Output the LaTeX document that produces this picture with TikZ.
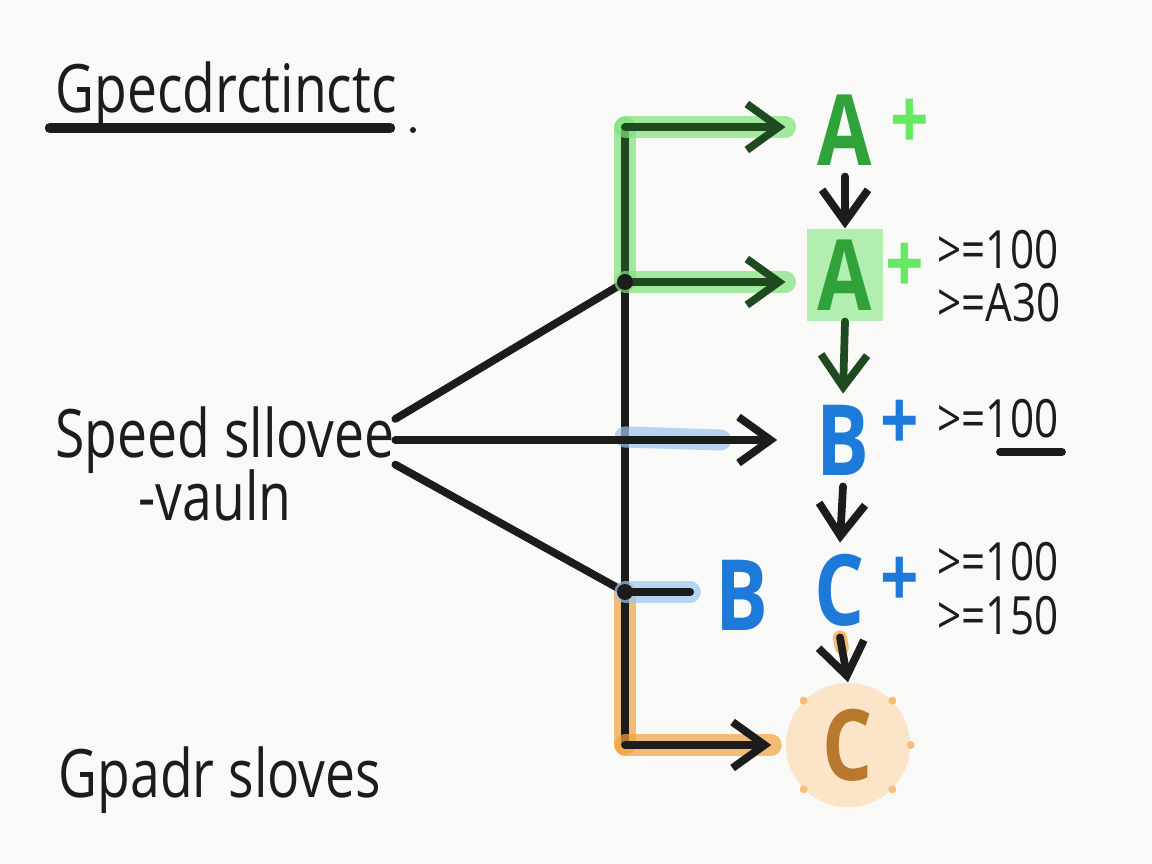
\documentclass[tikz,border=0pt]{standalone}
\usepackage{fontspec}
\setmainfont[FakeStretch=0.8]{Open Sans}
\usetikzlibrary{arrows.meta}

\begin{document}
\begin{tikzpicture}[x=0.01cm, y=-0.01cm]
    % Define colours
    \definecolor{paperColour}{HTML}{F9F9F7}
    \definecolor{inkColour}{HTML}{1C1C1C}
    \definecolor{greenInk}{HTML}{2FA23A}
    \definecolor{greenGlow}{HTML}{7FE27A}
    \definecolor{greenDark}{HTML}{1F4A1F}
    \definecolor{blueInk}{HTML}{1E7AD8}
    \definecolor{blueGlow}{HTML}{9CC6EE}
    \definecolor{orangeInk}{HTML}{F2A23E}
    \definecolor{orangeFill}{HTML}{FBE4C8}

    \tikzset{
        hand/.style={font=\fontsize{19}{22}\selectfont, inner sep=0pt, text=inkColour},
        letter/.style={font=\fontsize{28}{30}\selectfont\bfseries, inner sep=3pt},
        plussign/.style={font=\fontsize{24}{26}\selectfont\bfseries, inner sep=0pt},
        val/.style={font=\fontsize{15}{17}\selectfont, inner sep=0pt, anchor=west,
            text height=1.5ex, text depth=0pt, text=inkColour},
        ink/.style={draw=inkColour, line width=2.2pt, line cap=round},
        glow/.style={line width=6pt, line cap=round, opacity=0.7},
        tip/.style={-{Straight Barb[length=3.2mm, width=4.6mm, line width=2.2pt]}}
    }

    % Paper
    \fill[paperColour] (0,0) rectangle (1152,864);
    \useasboundingbox (0,0) rectangle (1152,864);

    % Texts on the left
    \node[hand, anchor=west] (title) at (55,95) {Gpecdrctinctc};
    \draw[ink, line width=3pt] (50,128) -- (390,128);
    \fill[inkColour] (413,130) circle (3);
    \node[hand] (src) at (225,440) {Speed sllovee};
    \node[hand] (srcsub) at (215,495) {-vauln};
    \node[hand] (out) at (220,780) {Gpadr sloves};

    % Points on the trunk
    \coordinate (top) at (625,127);
    \coordinate (j1) at (625,282);
    \coordinate (j2) at (625,592);
    \coordinate (bot) at (625,745);

    % Letters
    \node[letter, text=greenInk] (a1) at (845,130) {A};
    \node[letter, text=greenInk, fill=greenGlow!60] (a2) at (845,275) {A};
    \node[letter, text=blueInk] (b1) at (843,440) {B};
    \node[letter, text=blueInk] (c1) at (840,590) {C};
    \node[letter, text=blueInk] (b2) at (742,595) {B};
    \node[letter, circle, minimum size=1.24cm, fill=orangeFill, text=orangeInk!75!black] (c2) at (848,745) {C};
    \foreach \a in {0,45,135,-135,-45}
        \fill[orangeInk!70] (c2.\a) circle (4);

    % Plus signs
    \node[plussign, text=greenGlow!80!green] (pa1) at (910,124) {+};
    \node[plussign, text=greenGlow!80!green] (pa2) at (905,268) {+};
    \node[plussign, text=blueInk] (pb1) at (900,425) {+};
    \node[plussign, text=blueInk] (pc1) at (900,582) {+};

    % Values
    \node[val] (va2) at (937,254) {>=100};
    \node[val] (va2b) at (937,307) {>=A30};
    \node[val] (vb1) at (937,423) {>=100};
    \draw[ink] (1000,452) -- (1062,452);
    \node[val] (vc1) at (937,566) {>=100};
    \node[val] (vc1b) at (937,620) {>=150};

    % Trunk
    \draw[glow, greenGlow] (top) -- (j1);
    \draw[glow, orangeInk] (j2) -- (bot);
    \draw[ink, greenDark] (top) -- (j1);
    \draw[ink] (j1) -- (j2);
    \draw[ink] (j2) -- (bot);

    % Lines from the source text
    \draw[ink] ([yshift=6pt]src.east) -- (j1);
    \draw[ink] ([yshift=-7pt]src.east) -- (j2);
    \draw[glow, blueGlow] (625,437) -- ([xshift=-24pt]b1.west);
    \draw[ink, tip, shorten >=8pt] (src.east) -- (b1.west);

    % Arrows to the letters
    \draw[glow, greenGlow] (top) -- ([xshift=-6pt]a1.west |- top);
    \draw[ink, greenDark, tip, shorten >=6pt] (top) -- (a1.west |- top);
    \draw[glow, greenGlow] (j1) -- ([xshift=-6pt]a2.west |- j1);
    \draw[ink, greenDark, tip, shorten >=6pt] (j1) -- (a2.west |- j1);
    \draw[glow, blueGlow] (j2) -- ([xshift=-4pt]b2.west |- j2);
    \draw[ink] (j2) -- ([xshift=-4pt]b2.west |- j2);
    \draw[glow, orangeInk] (bot) -- ([xshift=-4pt]c2.west);
    \draw[ink, tip, shorten >=4pt] (bot) -- (c2.west);

    % Steps down the column
    \draw[ink, tip] (a1.south) -- (a2.north);
    \draw[ink, greenDark, tip] (a2.south) -- (b1.north);
    \draw[ink, tip] (b1.south) -- (c1.north);
    \draw[glow, orangeInk, line width=4pt, shorten >=10pt] (c1.south) -- (c2.north);
    \draw[ink, tip] (c1.south) -- (c2.north);

    % Junction dots
    \fill[inkColour] (j1) circle (8);
    \fill[inkColour] (j2) circle (8);
\end{tikzpicture}
\end{document}
